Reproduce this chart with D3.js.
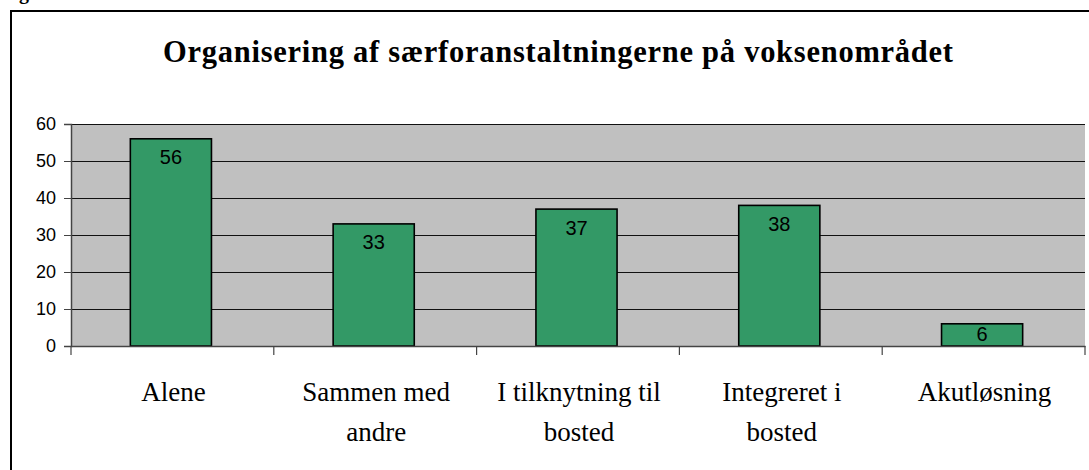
<!DOCTYPE html>
<html><head><meta charset="utf-8">
<script src="https://cdn.jsdelivr.net/npm/d3@7"></script>
<style>html,body{margin:0;padding:0;background:#fff;overflow:hidden}</style>
</head><body>
<script>
const categories = [["Alene"], ["Sammen med", "andre"], ["I tilknytning til", "bosted"], ["Integreret i", "bosted"], ["Akutløsning"]];
const values = [56, 33, 37, 38, 6];
const yTicks = [0, 10, 20, 30, 40, 50, 60];
const title = "Organisering af særforanstaltningerne på voksenområdet";

const W = 1089, H = 470;
const svg = d3.select("body").append("svg").attr("width", W).attr("height", H);

// cut-off caption fragment above frame
svg.append("text").attr("x", 19).attr("y", -1.5)
  .attr("font-family", "Liberation Serif").attr("font-weight", "bold").attr("font-size", 20)
  .text("g");

// outer frame
svg.append("rect").attr("x", 11).attr("y", 11).attr("width", W + 10).attr("height", H + 10)
  .attr("fill", "none").attr("stroke", "#000").attr("stroke-width", 2);

svg.append("text").attr("x", 558).attr("y", 62).attr("text-anchor", "middle")
  .attr("font-family", "Liberation Serif").attr("font-weight", "bold").attr("font-size", 30.5)
  .attr("textLength", 790).attr("lengthAdjust", "spacing")
  .text(title);

const x0 = 71, x1 = 1085, yTop = 124, yZero = 346;
const x = d3.scaleBand().domain(d3.range(categories.length)).range([x0, x1]).padding(0);
const y = d3.scaleLinear().domain([0, 60]).range([yZero, yTop]);

svg.append("rect").attr("x", x0).attr("y", yTop).attr("width", x1 - x0).attr("height", yZero - yTop)
  .attr("fill", "#C0C0C0");

// gridlines
svg.append("g").selectAll("line").data(yTicks.filter(d => d > 0)).join("line")
  .attr("x1", x0).attr("x2", x1).attr("y1", d => Math.round(y(d)) + 0.5).attr("y2", d => Math.round(y(d)) + 0.5)
  .attr("stroke", "#111").attr("stroke-width", 1);

// y axis
const yAxis = d3.axisLeft(y).tickValues(yTicks).tickSize(7).tickPadding(8);
const gy = svg.append("g").attr("transform", `translate(${x0},0)`).call(yAxis);
gy.select(".domain").attr("stroke", "#444").attr("stroke-width", 1.5);
gy.selectAll(".tick line").attr("stroke", "#444");
gy.selectAll(".tick text").attr("font-family", "Liberation Sans").attr("font-size", 18).attr("fill", "#000");

// bars
const bw = x.bandwidth() * 0.4;
svg.append("g").selectAll("rect").data(values).join("rect")
  .attr("x", (d, i) => x(i) + x.bandwidth() * 0.3 - 1.5)
  .attr("y", d => y(d))
  .attr("width", bw)
  .attr("height", d => yZero - y(d))
  .attr("fill", "#339966").attr("stroke", "#000").attr("stroke-width", 1.6);

// x axis
const xAxis = d3.axisBottom(x).tickSize(0).tickFormat("");
const gx = svg.append("g").attr("transform", `translate(0,${yZero})`).call(xAxis);
gx.select(".domain").attr("stroke", "#444").attr("stroke-width", 1.5);
svg.append("g").selectAll("line").data(d3.range(categories.length + 1)).join("line")
  .attr("x1", i => i < categories.length ? x(i) : x1).attr("x2", i => i < categories.length ? x(i) : x1)
  .attr("y1", yZero).attr("y2", yZero + 9).attr("stroke", "#444").attr("stroke-width", 1.2);

// value labels
svg.append("g").selectAll("text").data(values).join("text")
  .attr("x", (d, i) => x(i) + x.bandwidth() / 2 - 1.5)
  .attr("y", d => Math.min(y(d) + 25.5, yZero - 5))
  .attr("text-anchor", "middle")
  .attr("font-family", "Liberation Sans").attr("font-size", 20).attr("fill", "#000")
  .text(d => d);

// category labels
const cl = svg.append("g").selectAll("text").data(categories).join("text")
  .attr("text-anchor", "middle")
  .attr("font-family", "Liberation Serif").attr("font-size", 27).attr("fill", "#000");
cl.selectAll("tspan").data((d, i) => d.map(t => ({t, i}))).join("tspan")
  .attr("x", d => x(d.i) + x.bandwidth() / 2 + 1)
  .attr("y", (d, j) => 401 + j * 40)
  .text(d => d.t);
</script>
</body></html>
